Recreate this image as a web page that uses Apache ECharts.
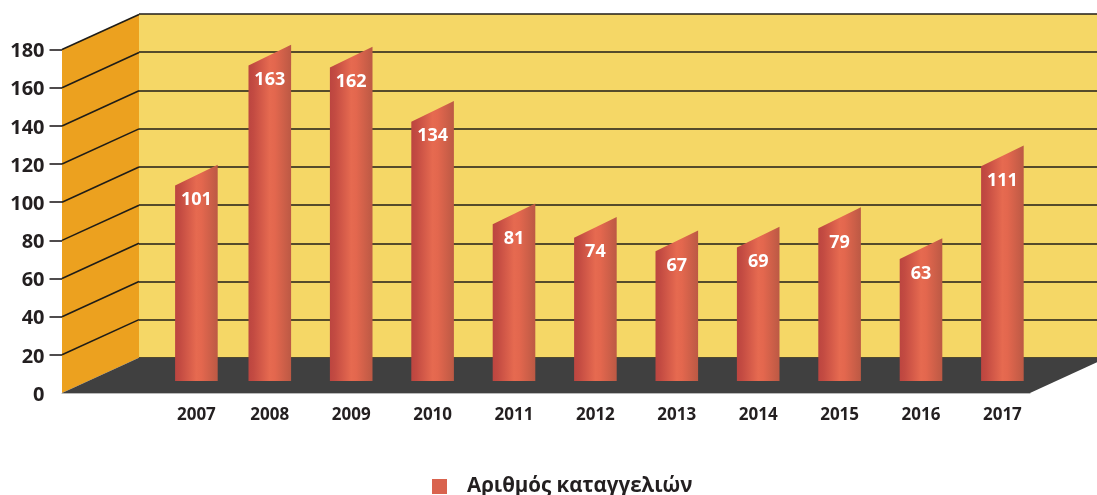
<!DOCTYPE html>
<html><head><meta charset="utf-8">
<style>html,body{margin:0;padding:0;background:#fff}#c{width:1097px;height:495px}</style>
<script src="https://cdn.jsdelivr.net/npm/echarts@6/dist/echarts.min.js"></script>
</head><body><div id="c"></div>
<script>
const years = ['2007','2008','2009','2010','2011','2012','2013','2014','2015','2016','2017'];
const complaints = [101,163,162,134,81,74,67,69,79,63,111];
const gridValues = [20,40,60,80,100,120,140,160,180];
const seriesName = 'Αριθμός καταγγελιών';

const FONT = '"Open Sans", sans-serif';
const INK = '#231f20';
const LINE = '#1f1d18';
const DEPTH_X = 77, DEPTH_Y = -35.2;     // oblique offset of the back wall
const BAR_W = 42.6, BAR_SLANT = 20.8;    // bar width and rise of its slanted top
const FIRST_NUDGE = 8;                   // the first bar sits closer to the second one

const chart = echarts.init(document.getElementById('c'), null, {renderer:'canvas'});
const poly = (points, style, extra) => Object.assign({type:'polygon', shape:{points}, style}, extra||{});

chart.setOption({
  animation:false,
  backgroundColor:'#fff',
  textStyle:{fontFamily:FONT},
  legend:{
    show:true, data:[seriesName], left:432, top:476, padding:0,
    icon:'rect', itemWidth:15, itemHeight:15, itemGap:20,
    textStyle:{fontFamily:FONT, fontWeight:'bold', fontSize:20.5, color:INK, padding:[0,0,0,15]}
  },
  grid:[
    {left:62, width:968, top:49.6, height:343.4},                 // front plane
    {left:139, width:958, top:14, height:344, show:true, backgroundColor:'#F5D766', borderWidth:0}, // back wall
    {left:147.7, width:895.4, top:32.7, height:348.3}             // plane of the bars
  ],
  xAxis:[
    {gridIndex:0, type:'value', min:0, max:1, splitLine:{show:false}, axisTick:{show:false}, axisLabel:{show:false},
     axisLine:{show:true, lineStyle:{color:'#b9b9b9', width:1}}},
    {gridIndex:1, type:'value', min:0, max:1, show:false},
    {gridIndex:2, type:'category', data:years, axisLine:{show:false}, axisTick:{show:false},
     axisLabel:{interval:0, margin:26, color:INK, fontFamily:FONT, fontWeight:'bold', fontSize:17,
       formatter:(v,i)=> i===0 ? '{first|'+v+'}' : v,
       rich:{first:{padding:[0,0,0,2*FIRST_NUDGE], color:INK, fontFamily:FONT, fontWeight:'bold', fontSize:17}}}}
  ],
  yAxis:[
    {gridIndex:0, type:'value', min:0, max:180, interval:20, splitLine:{show:false}, axisLine:{show:false},
     axisTick:{show:true, length:12.5, customValues:gridValues, lineStyle:{color:INK, width:1.6}},
     axisLabel:{margin:17.5, color:INK, fontFamily:FONT, fontWeight:'bold', fontSize:20,
       formatter:v=>'{n|'+v+'}',
       rich:{n:{padding:[4,0,0,0], color:INK, fontFamily:FONT, fontWeight:'bold', fontSize:20}}}},
    {gridIndex:1, type:'value', min:0, max:180, interval:20, axisLine:{show:false}, axisTick:{show:false}, axisLabel:{show:false},
     splitLine:{show:true, lineStyle:{color:LINE, width:1.6}}},
    {gridIndex:2, type:'value', min:0, max:180, show:false, splitLine:{show:false}}
  ],
  series:[
    { // side wall and floor
      type:'custom', xAxisIndex:0, yAxisIndex:0, z:2, silent:true, data:[0],
      renderItem:(p,api)=>{
        const a=api.coord([0,0]), b=api.coord([1,0]), t=api.coord([0,180]);
        const back=q=>[q[0]+DEPTH_X,q[1]+DEPTH_Y];
        return {type:'group',children:[
          poly([t,back(t),back(a),a],{fill:'#ECA11F'}),
          poly([a,b,back(b),back(a)],{fill:'#404040'})
        ]};
      }
    },
    { // diagonal grid lines on the side wall
      type:'custom', xAxisIndex:0, yAxisIndex:0, z:3, silent:true, data:gridValues.map(v=>[0,v]),
      renderItem:(p,api)=>{
        const a=api.coord([0,api.value(1)]);
        return {type:'line',shape:{x1:a[0],y1:a[1],x2:a[0]+DEPTH_X,y2:a[1]+DEPTH_Y},
          style:{stroke:LINE,lineWidth:1.6,fill:null}};
      }
    },
    { // the bars
      name:seriesName, type:'custom', xAxisIndex:2, yAxisIndex:2, z:4, silent:true,
      itemStyle:{color:'#D9634E'},
      data:complaints.map((v,i)=>[i,v]),
      renderItem:(p,api)=>{
        const i=api.value(0), v=api.value(1);
        const nudge = i===0 ? FIRST_NUDGE : 0;
        const top=api.coord([i,v]), bot=api.coord([i,0]);
        const x0=top[0]-BAR_W/2+nudge, x1=x0+BAR_W;
        const fill=new echarts.graphic.LinearGradient(0,0,1,0,[
          {offset:0,color:'#BC4540'},{offset:0.12,color:'#C34B42'},{offset:0.5,color:'#E66A50'},
          {offset:0.62,color:'#E3674E'},{offset:1,color:'#BC5944'}]);
        return {type:'group',children:[
          poly([[x0,top[1]],[x1,top[1]-BAR_SLANT],[x1,bot[1]],[x0,bot[1]]],{fill}),
          {type:'text',z2:5,style:{x:(x0+x1)/2,y:top[1]+14.5,text:String(v),align:'center',verticalAlign:'middle',
            fill:'#fff',font:'bold 18px '+FONT}}
        ]};
      }
    }
  ]
});
</script></body></html>
